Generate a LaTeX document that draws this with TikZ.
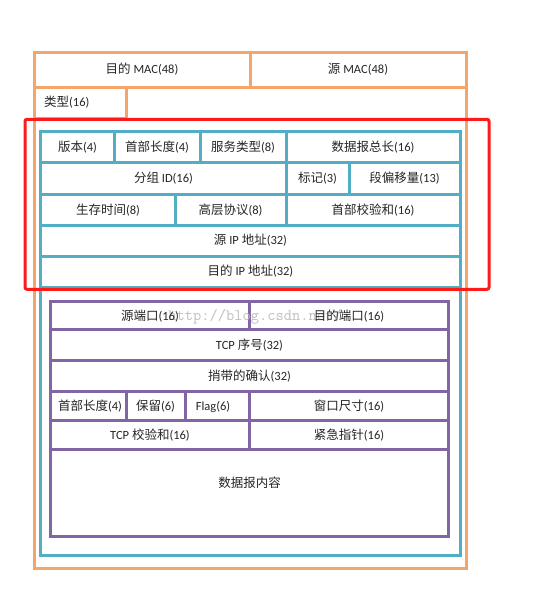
\documentclass[tikz,border=0pt]{standalone}
\usepackage{fontspec}
\setmainfont{Carlito}
\newfontfamily\cjk{Noto Sans CJK SC}
\newcommand{\zhtxt}[1]{{\cjk #1}}
\definecolor{ethorange}{HTML}{F4A66A}
\definecolor{ipteal}{HTML}{52AEC4}
\definecolor{tcppurple}{HTML}{8266A4}
\definecolor{hilite}{HTML}{FF1A1A}
\begin{document}
\begin{tikzpicture}[x=1pt,y=-1pt,
  lbl/.style={inner sep=0pt, font=\fontsize{12.5}{15}\selectfont, text=black!85},
  ethline/.style={draw=ethorange, line width=3pt},
  ipline/.style={draw=ipteal, line width=3pt},
  tcpline/.style={draw=tcppurple, line width=3pt},
  redbox/.style={draw=hilite, line width=3pt, rounded corners=2pt},
  wm/.style={inner sep=0pt, font=\ttfamily\fontsize{16}{18}\selectfont, text=black!25}]
\useasboundingbox (0,0) rectangle (555,598);
\fill[white] (0,0) rectangle (555,598);
% Ethernet frame (orange)
\draw[ethline] (34,52.7) rectangle (466.7,568);
\draw[ethline] (34,87) -- (466.7,87);
\draw[ethline] (250,52.7) -- (250,87);
\draw[ethline] (34,118) -- (126,118) -- (126,87);
% IP header (teal)
\draw[ipline] (40.7,131.7) rectangle (460,555);
\foreach \yy in {162.7,194,225,256,287} \draw[ipline] (40.7,\yy) -- (460,\yy);
\foreach \xx in {114,200,286} \draw[ipline] (\xx,131.7) -- (\xx,162.7);
\foreach \xx in {286,349} \draw[ipline] (\xx,162.7) -- (\xx,194);
\foreach \xx in {175,286} \draw[ipline] (\xx,194) -- (\xx,225);
% TCP header (purple)
\draw[tcpline] (50.7,301.7) rectangle (448.3,536.7);
\foreach \yy in {329.3,360,391,420,449.3} \draw[tcpline] (50.7,\yy) -- (448.3,\yy);
\draw[tcpline] (249.3,301.7) -- (249.3,329.3);
\foreach \xx in {126,185,249.3} \draw[tcpline] (\xx,391) -- (\xx,420);
\draw[tcpline] (249.3,420) -- (249.3,449.3);
% highlight
\draw[redbox] (25,119.3) rectangle (489,289.3);
% watermark
\node[wm] (watermark) at (255,317) {http://blog.csdn.net/};
% labels: Ethernet
\node[lbl] (macdst) at (142,69) {\zhtxt{目的} MAC(48)};
\node[lbl] (macsrc) at (358,69) {\zhtxt{源} MAC(48)};
\node[lbl, anchor=west] (ethtype) at (44,102.5) {\zhtxt{类型}(16)};
% labels: IP
\node[lbl] (ver) at (77.5,147.5) {\zhtxt{版本}(4)};
\node[lbl] (ihl) at (157,147.5) {\zhtxt{首部长度}(4)};
\node[lbl] (tos) at (243,147.5) {\zhtxt{服务类型}(8)};
\node[lbl] (totlen) at (373,147.5) {\zhtxt{数据报总长}(16)};
\node[lbl] (ident) at (163.5,178.5) {\zhtxt{分组} ID(16)};
\node[lbl] (ipflags) at (317.5,178.5) {\zhtxt{标记}(3)};
\node[lbl] (fragoff) at (404.5,178.5) {\zhtxt{段偏移量}(13)};
\node[lbl] (ttl) at (108,210) {\zhtxt{生存时间}(8)};
\node[lbl] (proto) at (230.5,210) {\zhtxt{高层协议}(8)};
\node[lbl] (hcsum) at (373,210) {\zhtxt{首部校验和}(16)};
\node[lbl] (srcip) at (250.5,240.5) {\zhtxt{源} IP \zhtxt{地址}(32)};
\node[lbl] (dstip) at (250.5,271.5) {\zhtxt{目的} IP \zhtxt{地址}(32)};
% labels: TCP
\node[lbl] (srcport) at (150,316.5) {\zhtxt{源端口}(16)};
\node[lbl] (dstport) at (349,316.5) {\zhtxt{目的端口}(16)};
\node[lbl] (seq) at (249.5,345.5) {TCP \zhtxt{序号}(32)};
\node[lbl] (ack) at (249.5,376.5) {\zhtxt{捎带的确认}(32)};
\node[lbl] (doff) at (90,406.5) {\zhtxt{首部长度}(4)};
\node[lbl] (rsv) at (155.5,406.5) {\zhtxt{保留}(6)};
\node[lbl] (tcpflag) at (213,406.5) {Flag(6)};
\node[lbl] (win) at (349,406.5) {\zhtxt{窗口尺寸}(16)};
\node[lbl] (tcpcsum) at (150,435.5) {TCP \zhtxt{校验和}(16)};
\node[lbl] (urg) at (349,435.5) {\zhtxt{紧急指针}(16)};
\node[lbl] (payload) at (249.5,483) {\zhtxt{数据报内容}};
\end{tikzpicture}
\end{document}
